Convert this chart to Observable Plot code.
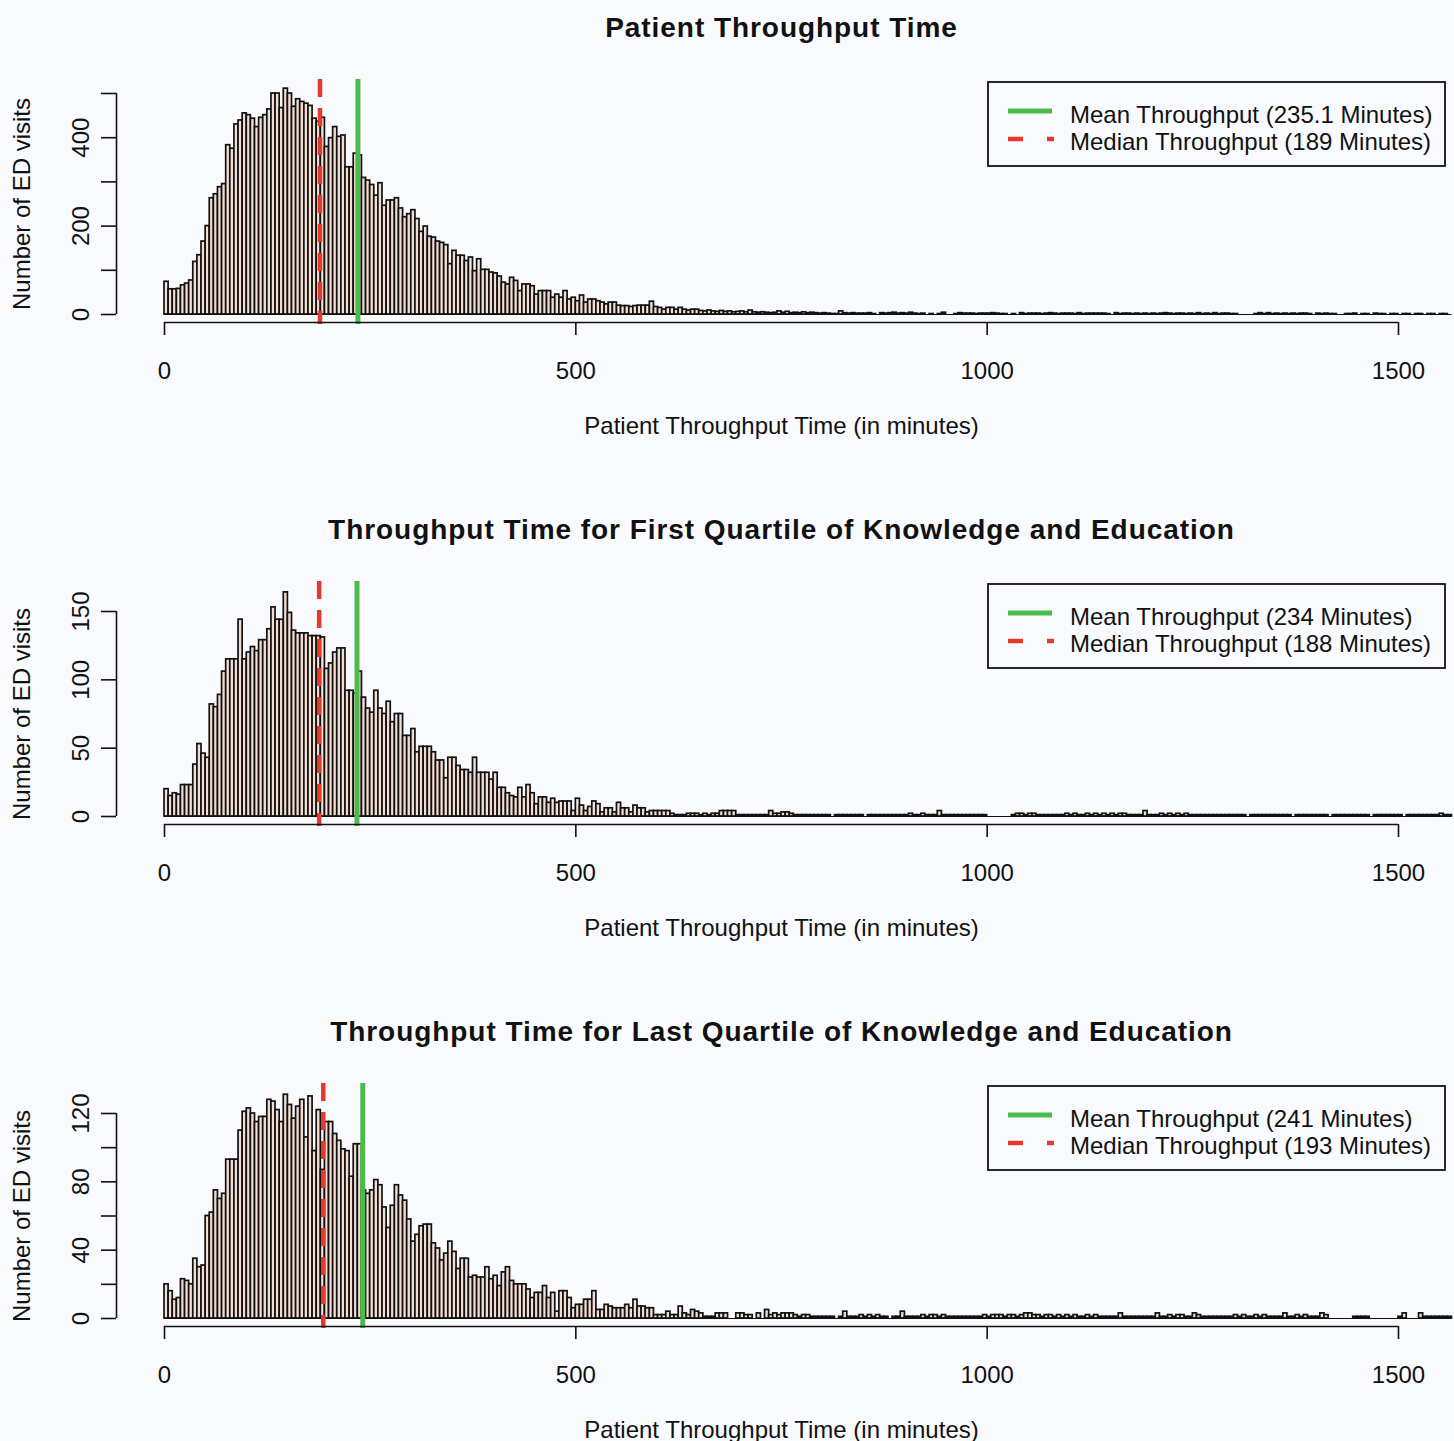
<!DOCTYPE html>
<html>
<head>
<meta charset="utf-8">
<script src="https://cdn.jsdelivr.net/npm/d3@7"></script>
<script src="https://cdn.jsdelivr.net/npm/@observablehq/plot@0.6"></script>
<style>
  html, body { margin: 0; padding: 0; background: #f9fafd; }
  #chart { width: 1454px; }
  #chart svg { display: block; }
</style>
</head>
<body>
<div id="chart"></div>
<script>
// ---------------- DATA ----------------
const binWidth = 5; // minutes per histogram bin, bins start at 0

// Panel 1: all visits (counts per 5-minute bin)
const allVisits = [
  74, 57, 57, 58, 66, 70, 77, 119, 134, 165,
  200, 263, 272, 288, 295, 383, 375, 430, 439, 455,
  451, 443, 424, 445, 451, 464, 500, 500, 467, 511,
  500, 470, 487, 481, 477, 472, 443, 436, 445, 379,
  399, 424, 402, 405, 333, 333, 364, 360, 309, 303,
  293, 269, 297, 246, 258, 258, 263, 240, 220, 227,
  236, 216, 187, 199, 176, 174, 165, 162, 157, 114,
  144, 133, 133, 121, 129, 98, 125, 101, 101, 95,
  93, 86, 72, 68, 83, 76, 53, 68, 68, 64,
  45, 53, 53, 53, 38, 45, 38, 53, 34, 38,
  30, 43, 27, 34, 34, 30, 27, 23, 27, 27,
  20, 19, 19, 17, 19, 20, 20, 20, 29, 17,
  15, 11, 15, 15, 11, 15, 11, 9, 11, 11,
  8, 7, 9, 7, 6, 8, 6, 7, 5, 6, 7, 5, 9, 5, 4, 5, 4, 3, 4, 7, 4, 6, 3, 4, 3,
  5, 3, 4, 3, 2, 3, 2, 1, 1, 7, 3, 2, 3, 2, 2,
  2, 3, 1, 0, 3, 2, 3, 4, 2, 3, 2, 4, 2, 1, 2,
  0, 1, 0, 1, 4, 0, 0, 1, 3, 2, 2, 2, 1, 2, 2,
  2, 3, 2, 1, 1, 0, 1, 0, 3, 1, 2, 2, 2, 1, 2,
  3, 2, 1, 2, 2, 2, 1, 3, 1, 2, 2, 2, 2, 2, 1,
  0, 3, 1, 2, 2, 1, 2, 1, 2, 1, 2, 1, 2, 3, 2,
  1, 2, 2, 1, 2, 1, 3, 1, 2, 1, 3, 1, 2, 2, 1,
  1, 0, 0, 0, 0, 1, 3, 1, 3, 1, 2, 1, 2, 1, 2,
  1, 2, 2, 1, 0, 2, 1, 2, 1, 1, 0, 0, 1, 1, 2,
  0, 1, 1, 0, 2, 1, 1, 0, 1, 1, 0, 1, 1, 0, 1,
  1, 0, 1, 1, 0, 1, 1, 0
];

// Panel 2: first quartile of knowledge and education
const firstQuartile = [
  20, 15, 17, 16, 23, 23, 23, 38, 53, 46,
  43, 82, 80, 89, 106, 115, 115, 115, 144, 115,
  120, 124, 121, 129, 129, 137, 153, 144, 144, 164,
  149, 136, 134, 134, 134, 132, 132, 132, 131, 108,
  112, 120, 123, 123, 92, 92, 90, 106, 87, 79,
  76, 92, 79, 75, 84, 69, 75, 75, 59, 59,
  64, 47, 51, 51, 51, 47, 41, 41, 28, 43,
  43, 37, 34, 34, 32, 43, 32, 32, 32, 27,
  32, 21, 21, 17, 15, 14, 21, 14, 23, 17,
  9, 14, 14, 10, 13, 10, 11, 11, 11, 4,
  13, 8, 4, 7, 11, 9, 3, 6, 6, 3,
  10, 6, 6, 3, 8, 6, 6, 3, 4, 4,
  4, 4, 4, 2, 1, 1, 1, 2, 2,
  2, 1, 2, 1, 2, 2, 4, 4, 4, 4, 1, 1, 1, 1, 1,
  1, 1, 1, 4, 2, 2, 3, 3, 2, 1, 1, 1, 1, 1, 1,
  1, 1, 1, 0, 1, 1, 1, 1, 1, 1, 1, 0, 1, 1, 1,
  1, 1, 1, 1, 1, 1, 1, 2, 1, 1, 2, 1, 1, 1, 4,
  1, 1, 1, 1, 1, 1, 1, 1, 1, 1, 1, 0, 0, 0, 0,
  0, 0, 1, 2, 2, 1, 2, 2, 1, 1, 1, 1, 1, 1, 1,
  2, 1, 2, 1, 1, 2, 1, 2, 1, 2, 1, 2, 1, 2, 2,
  1, 1, 1, 1, 4, 1, 1, 1, 2, 1, 2, 1, 2, 1, 2,
  1, 1, 1, 1, 1, 1, 1, 1, 1, 1, 1, 1, 1, 1, 0,
  1, 1, 1, 1, 1, 1, 1, 1, 1, 1, 0, 1, 1, 1, 1,
  1, 1, 1, 1, 0, 1, 1, 1, 1, 1, 1, 1, 1, 1, 0,
  1, 1, 1, 1, 1, 1, 1, 0, 1, 1, 1, 1, 1, 1, 1,
  1, 2, 1, 1
];

// Panel 3: last quartile of knowledge and education
const lastQuartile = [
  20, 16, 11, 12, 23, 22, 20, 35, 30, 31,
  60, 62, 75, 70, 73, 93, 93, 93, 110, 121,
  123, 120, 115, 118, 118, 128, 127, 122, 115, 131,
  125, 117, 124, 128, 106, 130, 98, 122, 87, 115,
  115, 108, 104, 99, 98, 83, 102, 102, 75, 73,
  75, 81, 78, 65, 53, 66, 78, 72, 69, 58,
  45, 49, 54, 55, 55, 44, 41, 34, 38, 45,
  39, 29, 35, 35, 24, 25, 24, 24, 30, 23,
  25, 19, 27, 30, 22, 20, 20, 20, 17, 12,
  15, 15, 19, 12, 15, 4, 16, 16, 12, 6,
  8, 8, 11, 11, 16, 5, 5, 8, 7, 6,
  6, 6, 8, 6, 11, 7, 7, 6, 6, 2,
  2, 2, 4, 2, 2, 7, 3, 2, 5, 4,
  3, 1, 1, 1, 3, 3, 3, 0, 0, 3,
  3, 2, 2, 0, 3, 0, 5, 2, 3, 2,
  3, 3,
  3, 2, 1, 2, 2, 1, 1, 1, 1, 1, 1, 0, 1, 4, 1,
  1, 1, 2, 1, 2, 1, 2, 1, 1, 0, 1, 1, 4, 1, 1,
  1, 1, 2, 1, 2, 2, 1, 2, 1, 1, 1, 1, 1, 1, 1,
  1, 1, 2, 1, 2, 2, 2, 1, 2, 2, 1, 2, 3, 3, 2,
  2, 1, 2, 2, 1, 2, 1, 2, 1, 2, 1, 1, 2, 1, 2,
  1, 1, 1, 1, 1, 3, 1, 1, 1, 1, 1, 1, 1, 1, 3,
  1, 1, 2, 1, 2, 2, 1, 1, 3, 2, 1, 1, 1, 1, 1,
  1, 1, 1, 2, 1, 2, 1, 1, 2, 1, 2, 1, 1, 1, 1,
  3, 1, 1, 2, 1, 2, 1, 1, 1, 3, 2, 0, 0, 0, 0,
  0, 0, 1, 1, 1, 1, 0, 0, 0, 0, 0, 0, 0, 1, 3,
  0, 0, 0, 3, 1, 1, 1, 1, 1, 1, 1
];

const panelTitles = [
  "Patient Throughput Time",
  "Throughput Time for First Quartile of Knowledge and Education",
  "Throughput Time for Last Quartile of Knowledge and Education"
];
const meanValues = [235.1, 234, 241];
const medianValues = [189, 188, 193];
const meanLabels = [
  "Mean Throughput (235.1 Minutes)",
  "Mean Throughput (234 Minutes)",
  "Mean Throughput (241 Minutes)"
];
const medianLabels = [
  "Median Throughput (189 Minutes)",
  "Median Throughput (188 Minutes)",
  "Median Throughput (193 Minutes)"
];
const xTicks = [0, 500, 1000, 1500];
const yTickSets = [
  [0, 100, 200, 300, 400, 500],
  [0, 50, 100, 150],
  [0, 20, 40, 60, 80, 100, 120]
];
const yTickLabelled = [
  [0, 200, 400],
  [0, 50, 100, 150],
  [0, 40, 80, 120]
];
const xLabel = "Patient Throughput Time (in minutes)";
const yLabel = "Number of ED visits";

// ---------------- DRAW ----------------
const series = [allVisits, firstQuartile, lastQuartile];
const FONT = "'Liberation Sans', Arial, Helvetica, sans-serif";
const INK = "#111";
const GREEN = "#4dbb4b";
const RED = "#e33a2c";

function panel(i) {
  const counts = series[i];
  const data = counts.map((n, k) => ({lo: k * binWidth, hi: (k + 1) * binWidth, n}));
  const yTop = yTickSets[i][yTickSets[i].length - 1];
  const H = 502, marginBottom = 188;
  const marginTop = i === 0 ? 93 : 109;
  const lineTop = 79, lineBottom = 324;
  const frameBottom = H - marginBottom;
  const labelled = new Set(yTickLabelled[i]);

  const svg = Plot.plot({
    width: 1454,
    height: H,
    marginLeft: 164,
    marginRight: 56,
    marginTop,
    marginBottom,
    style: {background: "transparent", fontFamily: FONT, color: INK, overflow: "visible"},
    x: {domain: [0, 1500], axis: null},
    y: {domain: [0, yTop], axis: null},
    marks: [
      Plot.ruleY([0], {x1: 0, x2: counts.length * binWidth, stroke: INK, strokeWidth: 1.2}),
      Plot.rectY(data, {x1: "lo", x2: "hi", y: "n", inset: 0, fill: "#f4ddd2", stroke: INK, strokeWidth: 1.7}),
      Plot.ruleX([medianValues[i]], {stroke: RED, strokeWidth: 4.5, strokeDasharray: "18,11",
        insetTop: -(marginTop - lineTop), insetBottom: -(lineBottom - frameBottom)}),
      Plot.ruleX([meanValues[i]], {stroke: GREEN, strokeWidth: 5,
        insetTop: -(marginTop - lineTop), insetBottom: -(lineBottom - frameBottom)}),
      // x axis (R style, offset below the plot)
      Plot.ruleY([0], {x1: xTicks[0], x2: xTicks[xTicks.length - 1], dy: 8, stroke: INK, strokeWidth: 1.6}),
      Plot.axisX({ticks: xTicks, tickSize: 13, tickPadding: 26, dy: 8, fontSize: 24, strokeWidth: 1.6,
        tickFormat: d => String(d), label: null, fill: INK}),
      // y axis
      Plot.ruleX([0], {y1: 0, y2: yTop, dx: -48, stroke: INK, strokeWidth: 1.6}),
      Plot.axisY({ticks: yTickSets[i], tickSize: 15, tickPadding: 13, dx: -48, tickRotate: -90, fontSize: 24,
        strokeWidth: 1.6, tickFormat: d => labelled.has(d) ? String(d) : "", label: null, fill: INK}),
      // titles and labels
      Plot.text([panelTitles[i]], {frameAnchor: "top", lineAnchor: "middle", dy: 28 - marginTop,
        fontSize: 28, fontWeight: "bold", fill: INK}),
      Plot.text([xLabel], {frameAnchor: "bottom", lineAnchor: "middle", dy: 426 - frameBottom, fontSize: 24, fill: INK}),
      Plot.text([yLabel], {frameAnchor: "left", textAnchor: "middle", lineAnchor: "middle", rotate: -90,
        dx: 22 - 164, fontSize: 24, fill: INK})
    ]
  });

  // slightly wider tracking for the bold panel title, as in the original figure
  d3.select(svg).selectAll("text")
    .filter(function () { return this.textContent === panelTitles[i]; })
    .attr("letter-spacing", "0.95px");

  // legend box (top right, as in the R figure)
  const g = d3.select(svg).append("g").attr("font-family", FONT).attr("text-anchor", "start");
  const lx = 988, ly = 82, lw = 457, lh = 84;
  g.append("rect").attr("x", lx).attr("y", ly).attr("width", lw).attr("height", lh)
    .attr("fill", "none").attr("stroke", INK).attr("stroke-width", 1.8);
  g.append("line").attr("x1", lx + 20).attr("x2", lx + 64).attr("y1", ly + 29).attr("y2", ly + 29)
    .attr("stroke", GREEN).attr("stroke-width", 5);
  g.append("line").attr("x1", lx + 20).attr("x2", lx + 66).attr("y1", ly + 57).attr("y2", ly + 57)
    .attr("stroke", RED).attr("stroke-width", 4.5).attr("stroke-dasharray", "15,24");
  g.append("text").attr("x", lx + 82).attr("y", ly + 32).attr("dominant-baseline", "central")
    .attr("text-anchor", "start").attr("font-size", 24).attr("fill", INK).text(meanLabels[i]);
  g.append("text").attr("x", lx + 82).attr("y", ly + 59).attr("dominant-baseline", "central")
    .attr("text-anchor", "start").attr("font-size", 24).attr("fill", INK).text(medianLabels[i]);
  return svg;
}

const chart = document.getElementById("chart");
for (let i = 0; i < 3; i++) chart.appendChild(panel(i));
</script>
</body>
</html>
